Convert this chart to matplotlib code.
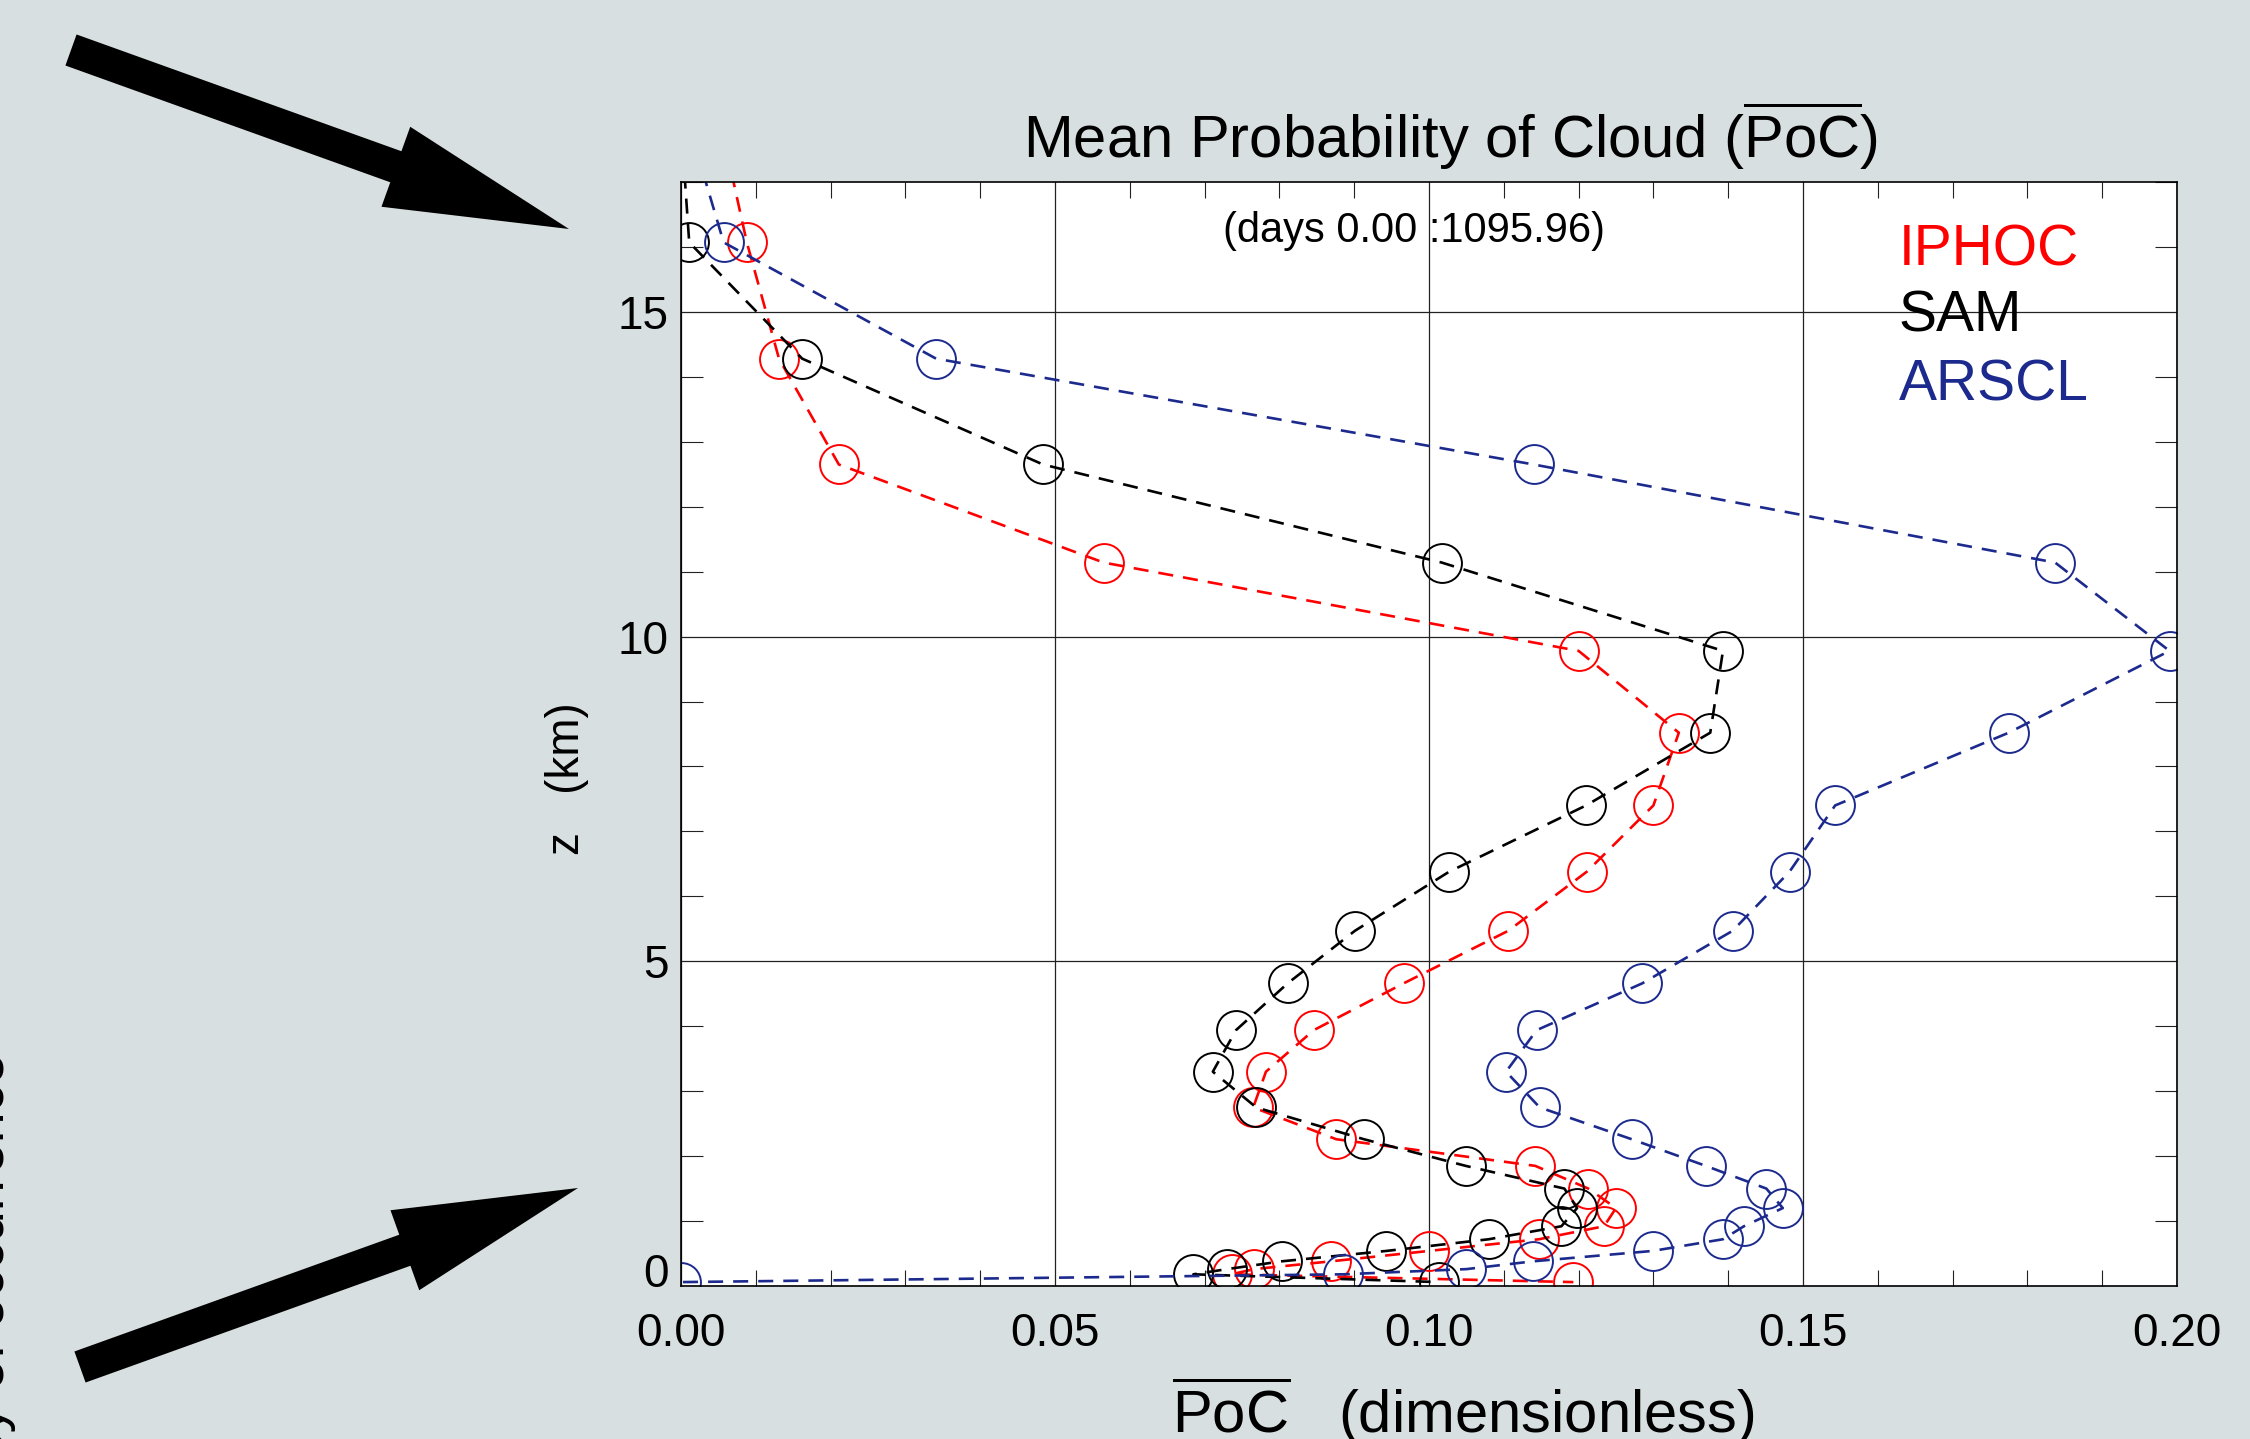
import numpy as np
import matplotlib
matplotlib.use("Agg")
import matplotlib.pyplot as plt
import matplotlib.transforms as mtransforms
from matplotlib.patches import Polygon
from matplotlib.ticker import MultipleLocator, FormatStrFormatter

plt.rcParams['font.family'] = ['Liberation Sans', 'DejaVu Sans']
plt.rcParams['mathtext.fontset'] = 'custom'
plt.rcParams['mathtext.rm'] = 'Liberation Sans'
plt.rcParams['mathtext.it'] = 'Liberation Sans:italic'
plt.rcParams['mathtext.bf'] = 'Liberation Sans:bold'

# model levels (km), top to bottom; first one lies above the plot top
z_km = [17.9, 16.07, 14.28, 12.65, 11.14, 9.78, 8.52, 7.40, 6.38, 5.47,
        4.66, 3.94, 3.30, 2.75, 2.26, 1.85, 1.50, 1.20, 0.92, 0.72,
        0.54, 0.38, 0.26, 0.18, 0.06]

poc_iphoc = [0.0053, 0.0088, 0.0131, 0.0211, 0.0565, 0.1200, 0.1334, 0.1300, 0.1211, 0.1106,
             0.0966, 0.0846, 0.0782, 0.0765, 0.0876, 0.1142, 0.1213, 0.1250, 0.1234, 0.1147,
             0.1000, 0.0869, 0.0766, 0.0736, 0.1193]
poc_sam = [0.0000, 0.0011, 0.0162, 0.0484, 0.1017, 0.1393, 0.1376, 0.1210, 0.1027, 0.0901,
           0.0811, 0.0742, 0.0711, 0.0769, 0.0913, 0.1049, 0.1181, 0.1198, 0.1177, 0.1080,
           0.0943, 0.0803, 0.0730, 0.0685, 0.1013]
poc_arscl = [0.0010, 0.0057, 0.0341, 0.1140, 0.1837, 0.1990, 0.1775, 0.1543, 0.1482, 0.1406,
             0.1285, 0.1144, 0.1103, 0.1148, 0.1271, 0.1370, 0.1451, 0.1473, 0.1421, 0.1393,
             0.1299, 0.1139, 0.1050, 0.0885, 0.0000]

series_names = ['IPHOC', 'SAM', 'ARSCL']
series_colors = ['#ff0000', '#000000', '#1c2a8e']

x_ticks = [0.00, 0.05, 0.10, 0.15, 0.20]
z_ticks = [0, 5, 10, 15]

BG = '#d8dfe0'
W, H = 2250, 1439


def draw_arrow(fig, tail, tip, shaft_w=33, head_w=85, head_len=184):
    # tail/tip in image pixels, y counted from the top
    tail = np.array(tail, float)
    tip = np.array(tip, float)
    d = tip - tail
    u = d / np.hypot(*d)
    n = np.array([-u[1], u[0]])
    base = tip - u * head_len
    pts = [tail + n * shaft_w / 2, base + n * shaft_w / 2, base + n * head_w / 2, tip,
           base - n * head_w / 2, base - n * shaft_w / 2, tail - n * shaft_w / 2]
    pts = [(p[0] / W, 1 - p[1] / H) for p in pts]
    fig.add_artist(Polygon(pts, closed=True, transform=fig.transFigure,
                           facecolor='black', edgecolor='none'))


fig = plt.figure(figsize=(W / 100, H / 100), dpi=100, facecolor=BG)
ax = fig.add_axes([681 / W, 1 - 1286 / H, 1496 / W, 1104 / H])
ax.set_facecolor('white')

for name, vals, col in zip(series_names, [poc_iphoc, poc_sam, poc_arscl], series_colors):
    ax.plot(vals, z_km, color=col, lw=1.9, linestyle=(0, (5.7, 3.8)),
            marker='o', ms=28, mfc='none', mec=col, mew=1.4, label=name)

ax.set_xlim(0, 0.20)
ax.set_ylim(0, 17)
ax.set_xticks(x_ticks)
ax.set_yticks(z_ticks)
ax.xaxis.set_minor_locator(MultipleLocator(0.01))
ax.yaxis.set_minor_locator(MultipleLocator(1))
ax.xaxis.set_major_formatter(FormatStrFormatter('%.2f'))
ax.yaxis.set_major_formatter(FormatStrFormatter('%d'))

ax.grid(which='major', color='#222222', lw=0.9)
ax.tick_params(which='major', length=0, labelsize=33)
ax.tick_params(axis='x', which='major', pad=19)
ax.tick_params(axis='y', which='major', pad=9)
ax.tick_params(which='minor', direction='in', top=True, right=True, width=0.8, color='#222222')
ax.xaxis.set_tick_params(which='minor', length=11.5)
ax.yaxis.set_tick_params(which='minor', length=16)
for sp in ax.spines.values():
    sp.set_linewidth(1.2)

# the "0" label sits a little above its tick
lab0 = ax.yaxis.get_major_ticks()[0].label1
lab0.set_transform(lab0.get_transform() + mtransforms.ScaledTranslation(0, 0.16, fig.dpi_scale_trans))

ax.text(0.49, 0.9457, '(days 0.00 :1095.96)', transform=ax.transAxes,
        ha='center', va='baseline', fontsize=30)

legend_y = [0.924, 0.865, 0.8025]
for name, col, yy in zip(series_names, series_colors, legend_y):
    ax.text(0.814, yy, name, color=col, transform=ax.transAxes,
            ha='left', va='baseline', fontsize=41)

ax.text(-0.076, 0.46, 'z   (km)', rotation=90, transform=ax.transAxes,
        ha='center', va='center', fontsize=33)

fig.text(1451 / W, 1 - 158 / H, r'Mean Probability of Cloud ($\overline{\mathrm{PoC}}$)',
         ha='center', va='baseline', fontsize=43)
fig.text(1463 / W, 1 - 1433 / H, r'$\overline{\mathrm{PoC}}$   (dimensionless)',
         ha='center', va='baseline', fontsize=43)

# clipped label of a neighbouring panel at the left edge
fig.text(4 / W, 1 - 1053 / H, 'Frequency of occurrence', rotation=90, rotation_mode='anchor',
         ha='right', va='baseline', fontsize=40)

draw_arrow(fig, (71, 50), (569, 229))
draw_arrow(fig, (80, 1367), (578, 1188))

fig.savefig('out.png', dpi=100, facecolor=BG)
